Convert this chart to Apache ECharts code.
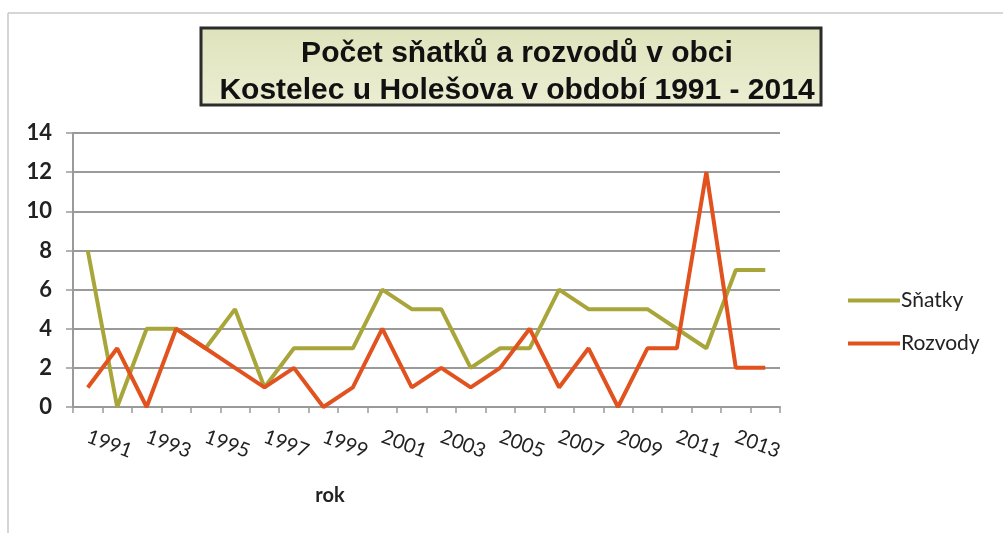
<!DOCTYPE html>
<html>
<head>
<meta charset="utf-8">
<script src="https://cdn.jsdelivr.net/npm/echarts@6/dist/echarts.min.js"></script>
<style>
  html, body { margin: 0; padding: 0; background: #fff; }
  #chart { width: 1003px; height: 533px; }
</style>
</head>
<body>
<div id="chart"></div>
<script>
// roky 1991 - 2014
const years = ['1991', '1992', '1993', '1994', '1995', '1996', '1997', '1998', '1999', '2000', '2001', '2002',
  '2003', '2004', '2005', '2006', '2007', '2008', '2009', '2010', '2011', '2012', '2013', '2014']
const snatky = [8, 0, 4, 4, 3, 5, 1, 3, 3, 3, 6, 5, 5, 2, 3, 3, 6, 5, 5, 5, 4, 3, 7, 7]
const rozvody = [1, 3, 0, 4, 3, 2, 1, 2, 0, 1, 4, 1, 2, 1, 2, 4, 1, 3, 0, 3, 3, 12, 2, 2]
const yTicks = [0, 2, 4, 6, 8, 10, 12, 14]

const chart = echarts.init(document.getElementById('chart'))
chart.setOption({
  animation: false,
  backgroundColor: '#fff',
  title: [
    {
      text: 'Počet sňatků a rozvodů v obci\nKostelec u Holešova v období 1991 - 2014',
      left: 512,
      top: 30,
      textAlign: 'center',
      textStyle: {
        fontFamily: 'Liberation Sans',
        fontWeight: 'bold',
        fontSize: 30,
        lineHeight: 37,
        color: '#111',
      },
    },
    {
      text: 'rok',
      left: 325,
      top: 481,
      textAlign: 'center',
      textStyle: { fontFamily: 'Lato', fontWeight: 'bold', fontSize: 20, color: '#222' },
    },
  ],
  // rámeček titulku a okraje obrázku
  graphic: [
    {
      type: 'rect',
      z: -1,
      shape: { x: 201, y: 28, width: 620, height: 77 },
      style: {
        fill: new echarts.graphic.LinearGradient(0, 0, 0, 1, [
          { offset: 0, color: '#dfe3bb' },
          { offset: 1, color: '#eceed3' },
        ]),
        stroke: '#2b2b2b',
        lineWidth: 3,
      },
    },
    { type: 'line', shape: { x1: 8, y1: 13, x2: 1003, y2: 13 }, style: { stroke: '#c8c8c8', lineWidth: 1.5 } },
    { type: 'line', shape: { x1: 8, y1: 13, x2: 8, y2: 533 }, style: { stroke: '#c8c8c8', lineWidth: 1.5 } },
  ],
  legend: {
    orient: 'vertical',
    left: 843,
    top: 285,
    itemGap: 22,
    itemWidth: 52,
    itemHeight: 4,
    icon: 'rect',
    textStyle: { fontFamily: 'Lato', fontSize: 21, color: '#222', padding: [0, 0, 0, -4] },
    data: ['Sňatky', 'Rozvody'],
  },
  grid: { left: 73, right: 223, top: 133, bottom: 126 },
  xAxis: {
    type: 'category',
    data: years,
    boundaryGap: true,
    axisLine: { lineStyle: { color: '#9a9a9a', width: 2 } },
    axisTick: { show: true, interval: 0, length: 6, lineStyle: { color: '#9a9a9a', width: 1.5 } },
    axisLabel: {
      interval: 1,
      rotate: -20,
      margin: 29,
      fontFamily: 'Lato',
      fontSize: 20,
      color: '#222',
    },
  },
  yAxis: {
    type: 'value',
    min: yTicks[0],
    max: yTicks[yTicks.length - 1],
    interval: 2,
    axisLine: { show: true, lineStyle: { color: '#9a9a9a', width: 2 } },
    axisTick: { show: true, length: 7, lineStyle: { color: '#9a9a9a', width: 1.5 } },
    splitLine: { lineStyle: { color: '#9a9a9a', width: 2 } },
    axisLabel: { margin: 21, fontFamily: 'Lato', fontWeight: 'bold', fontSize: 22, color: '#222' },
  },
  series: [
    {
      name: 'Sňatky',
      type: 'line',
      data: snatky,
      showSymbol: false,
      color: '#a8a63a',
      lineStyle: { width: 4, color: '#a8a63a' },
    },
    {
      name: 'Rozvody',
      type: 'line',
      data: rozvody,
      showSymbol: false,
      color: '#e2521f',
      lineStyle: { width: 4, color: '#e2521f' },
    },
  ],
})
</script>
</body>
</html>
